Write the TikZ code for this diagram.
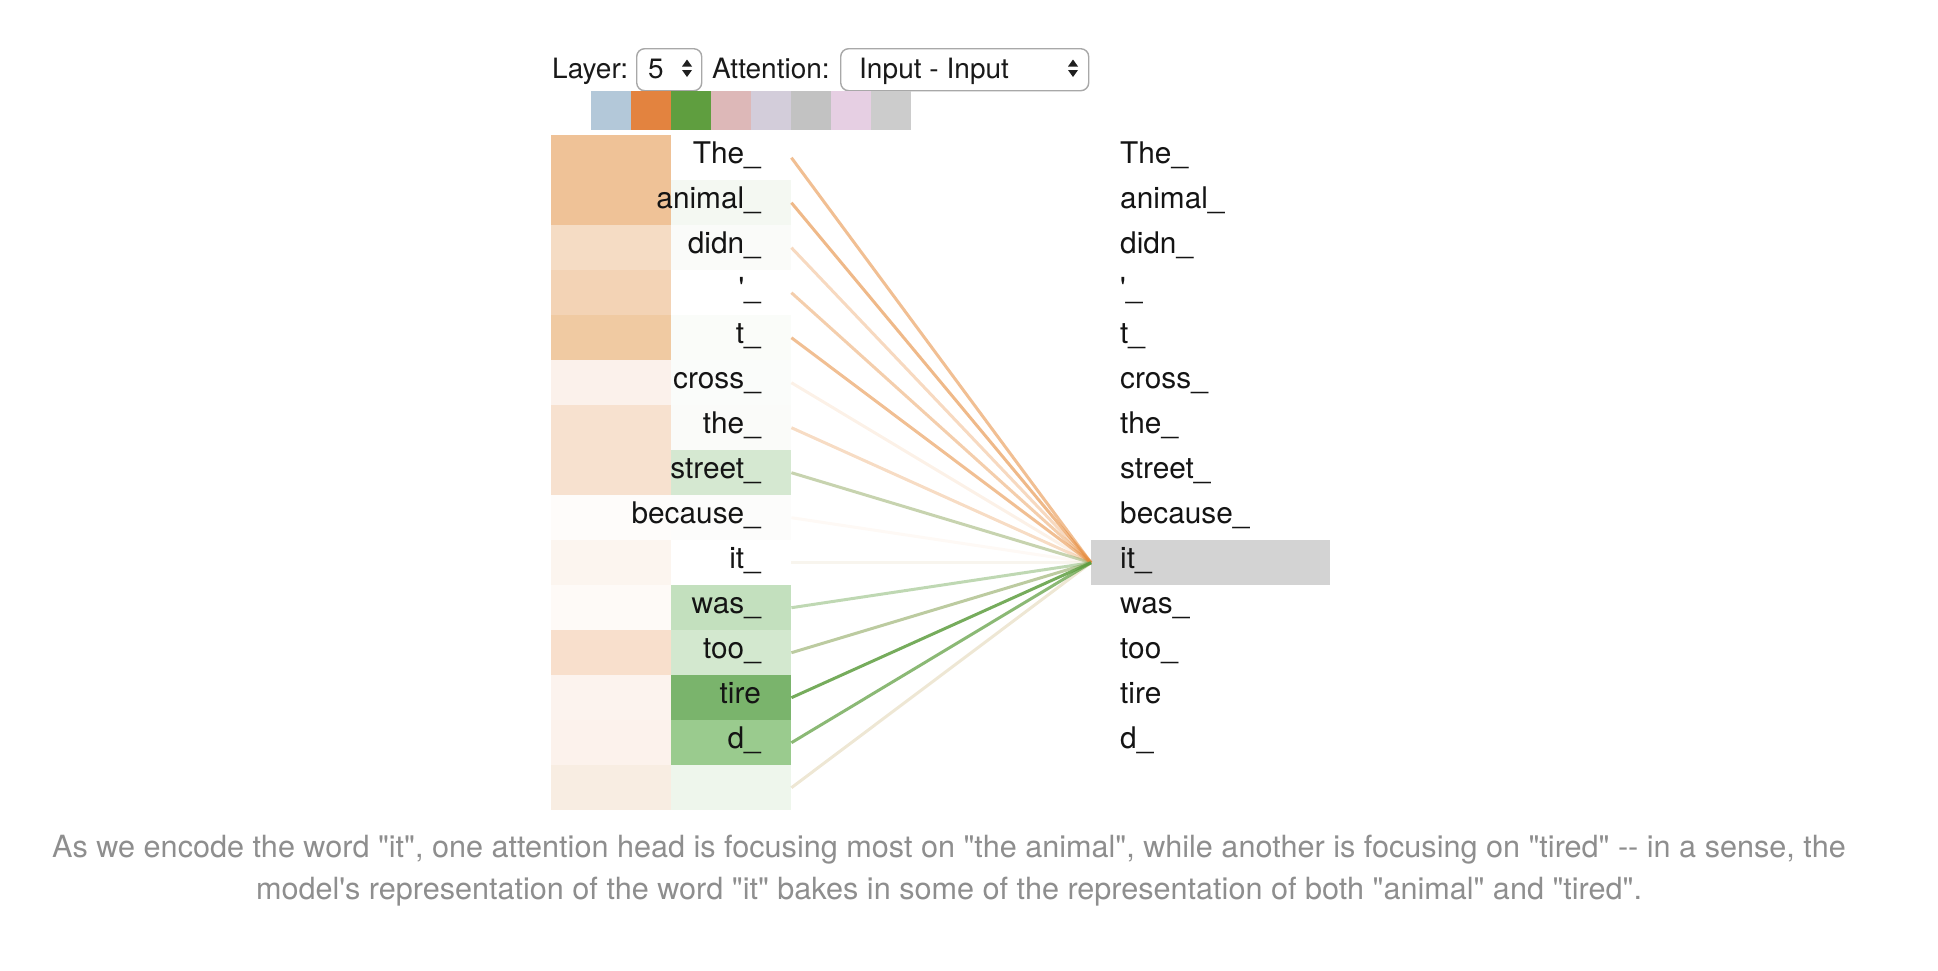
\documentclass[tikz,border=0pt]{standalone}
\usepackage{fontspec}
\setmainfont{TeX Gyre Heros}
\definecolor{orng}{HTML}{E58A3A}
\definecolor{grn}{HTML}{5E9E40}
\definecolor{olv}{HTML}{8FA860}
\definecolor{beig}{HTML}{C8B070}
\definecolor{capgray}{HTML}{8E8E8E}
\definecolor{itgray}{HTML}{D3D3D3}
\definecolor{boxline}{HTML}{A8A8A8}
\newcommand\qd{\textquotedbl}
\begin{document}
\begin{tikzpicture}[x=1pt,y=-1pt,
  tok/.style={font=\fontsize{29.8}{31}\selectfont, text=black!92, inner sep=0pt},
  cell/.style={minimum width=120pt, minimum height=45pt, inner sep=0pt, draw=none, anchor=north west},
  att/.style={line width=3pt},
  ui/.style={font=\fontsize{28}{30}\selectfont, inner sep=0pt, text=black!90},
  selbox/.style={draw=boxline, line width=1.4pt, rounded corners=8pt, fill=white, inner sep=0pt, anchor=north west},
  swatch/.style={minimum width=40pt, minimum height=39pt, inner sep=0pt, anchor=north west, draw=none},
  captxt/.style={font=\fontsize{30.6}{34}\selectfont, text=capgray, inner sep=0pt, anchor=base},
  selarrow/.style={fill=black!88}
]
\useasboundingbox (0,0) rectangle (1938,970);

% --- controls ---
\node[ui, anchor=base west] (layerlbl) at (552,78) {Layer:};
\node[selbox, minimum width=65pt, minimum height=42pt] (layerbox) at (636,48) {};
\node[ui, anchor=base west] (layerval) at (648,78) {5};
\fill[selarrow] (687,59.5) -- (692,66.5) -- (682,66.5) -- cycle;
\fill[selarrow] (687,77) -- (692,70) -- (682,70) -- cycle;
\node[ui, anchor=base west] (attlbl) at (712,78) {Attention:};
\node[selbox, minimum width=248pt, minimum height=42pt] (attbox) at (840,48) {};
\node[ui, anchor=base west] (attval) at (859,78) {Input - Input};
\fill[selarrow] (1073,59.5) -- (1078,66.5) -- (1068,66.5) -- cycle;
\fill[selarrow] (1073,77) -- (1078,70) -- (1068,70) -- cycle;

% --- head swatches ---
\foreach \k/\c in {0/B3C8D9,1/E3833F,2/5F9E3F,3/DDB8B8,4/D3CDDA,5/C2C2C2,6/E6CFE3,7/CCCCCC}{
  \definecolor{swc}{HTML}{\c}
  \node[swatch, fill=swc] (S\k) at (591+40*\k,91) {};
}

% --- left columns ---
\foreach \i/\tok/\oc/\gc in {
  0/The\_/EFC297/FFFFFF,
  1/animal\_/EFC297/F4F8F2,
  2/didn\_/F5DCC4/FAFBF9,
  3/\textquotesingle\_/F3D3B5/FFFFFF,
  4/t\_/F0CAA2/FAFCF9,
  5/cross\_/FBF1EB/FAFCFA,
  6/the\_/F7E1CF/FAFBF9,
  7/street\_/F7E1CF/D5E8D1,
  8/because\_/FEFCFA/FCFCFB,
  9/it\_/FCF5EF/FFFFFF,
  10/was\_/FEFAF7/C3E0BE,
  11/too\_/F8DFCC/D3E8CF,
  12/tire/FCF3EE/7AB46C,
  13/d\_/FCF2EC/9ACB8E,
  14//F8EDE2/EEF6EC}{
  \definecolor{occ}{HTML}{\oc}
  \definecolor{gcc}{HTML}{\gc}
  \node[cell, fill=occ] (O\i) at (551,135+45*\i) {};
  \node[cell, fill=gcc] (G\i) at (671,135+45*\i) {};
  \node[tok, anchor=base east] (L\i) at (761,163+45*\i) {\tok};
}

% --- query highlight ---
\node[cell, fill=itgray, minimum width=239pt] (itbox) at (1091,540) {};

% --- right column ---
\foreach \i/\tok in {0/The\_,1/animal\_,2/didn\_,3/\textquotesingle\_,4/t\_,5/cross\_,6/the\_,7/street\_,8/because\_,9/it\_,10/was\_,11/too\_,12/tire,13/d\_}{
  \node[tok, anchor=base west] (R\i) at (1120,163+45*\i) {\tok};
}

% --- attention lines ---
\foreach \i/\lc/\lo in {
  8/orng/.05, 9/beig/.12, 5/orng/.12, 14/beig/.3, 6/orng/.3, 2/orng/.32,
  3/orng/.42, 7/olv/.5, 10/grn/.4, 4/orng/.55, 0/orng/.55, 1/orng/.6,
  11/olv/.6, 13/grn/.72, 12/grn/.85}{
  \draw[att, draw=\lc, draw opacity=\lo] (G\i.east) -- (itbox.west);
}

% --- caption ---
\node[captxt] (cap1) at (949,857) {As we encode the word \qd it\qd, one attention head is focusing most on \qd the animal\qd, while another is focusing on \qd tired\qd\ -\kern0pt- in a sense, the};
\node[captxt] (cap2) at (949,899) {model\textquotesingle s representation of the word \qd it\qd\ bakes in some of the representation of both \qd animal\qd\ and \qd tired\qd.};
\end{tikzpicture}
\end{document}
